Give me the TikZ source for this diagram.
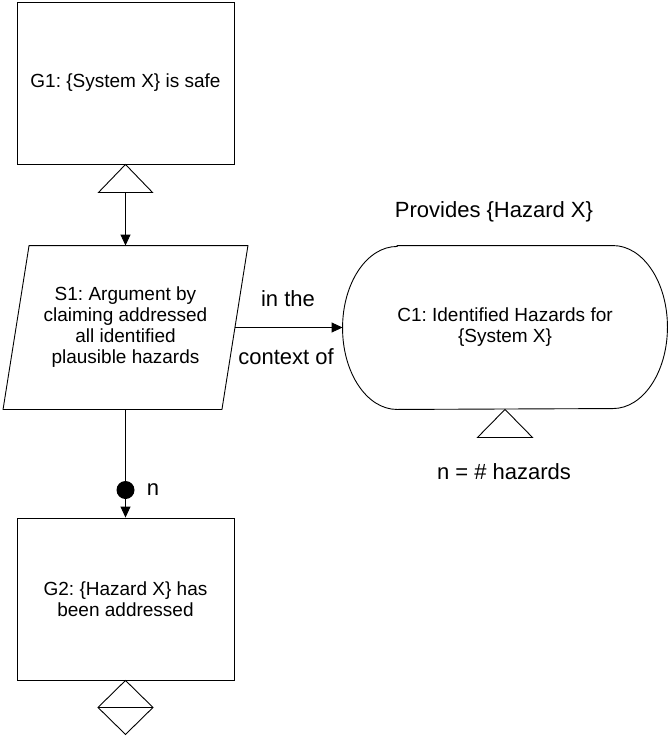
\documentclass[tikz,border=0pt]{standalone}
\usepackage{fontspec}
\setmainfont{Liberation Sans}
\frenchspacing
\usetikzlibrary{arrows.meta}
\tikzset{
  boxtext/.style={font=\fontsize{19}{21}\selectfont, align=center, inner sep=0pt},
  bigtext/.style={font=\fontsize{22}{24}\selectfont, inner sep=0pt},
  goalbox/.style={draw, boxtext, minimum width=217pt, minimum height=162pt},
  hiddenbox/.style={boxtext, minimum height=163pt},
  tip/.style={-{Triangle[length=11pt,width=10pt]}}
}
\begin{document}
\begin{tikzpicture}[x=1pt, y=1pt, line width=0.9pt]
\useasboundingbox (0,0) rectangle (668,-736);
% goal G1 and its triangle
\node[goalbox] (G1) at (125.5,-83) {G1: \{System X\} is safe};
\draw (G1.south) -- ++(27,-28) -- ++(-54,0) -- cycle;
\coordinate (G1t) at ([yshift=-28pt]G1.south);
% strategy S1
\node[hiddenbox, minimum width=218pt] (S1) at (125.5,-327.5) {S1: Argument by\\claiming addressed\\all identified\\plausible hazards};
\draw ([xshift=13pt]S1.north west) -- ([xshift=13pt]S1.north east) -- ([xshift=-13pt]S1.south east) -- ([xshift=-13pt]S1.south west) -- cycle;
\draw[tip] (G1t) -- (S1);
% context C1
\node[hiddenbox, minimum width=324pt] (C1) at (505,-327.5) {C1: Identified Hazards for\\\{System X\}};
\draw ([xshift=54.5pt]C1.north west) -- ([xshift=-54.5pt]C1.north east)
  arc[start angle=90, end angle=-90, x radius=54.5, y radius=81.5]
  -- ([xshift=54.5pt]C1.south west)
  arc[start angle=270, end angle=90, x radius=54.5, y radius=81.5] -- cycle;
\draw (C1.south) -- ++(27.5,-28) -- ++(-55,0) -- cycle;
\node[bigtext] (prov) at (494,-212) {Provides \{Hazard X\}};
\node[bigtext] (nhaz) at (504,-472) {n = \# hazards};
\draw[tip] (S1) -- (C1);
\node[bigtext] (inthe) at (288,-299) {in the};
\node[bigtext] (ctxof) at (286,-357) {context of};
% goal G2 with multiplicity
\node[goalbox] (G2) at (125.5,-599) {G2: \{Hazard X\} has\\been addressed};
\node[circle, fill, inner sep=0pt, minimum size=18pt] (dot) at (125.5,-490) {};
\node[bigtext] (n) at (153,-490) {n};
\draw (S1) -- (dot);
\draw[tip] (dot) -- (G2);
\draw (G2.south) -- ++(27.5,-27) -- ++(-27.5,-27) -- ++(-27.5,27) -- cycle;
\draw ([xshift=-27.5pt,yshift=-27pt]G2.south) -- ++(55,0);
\end{tikzpicture}
\end{document}
